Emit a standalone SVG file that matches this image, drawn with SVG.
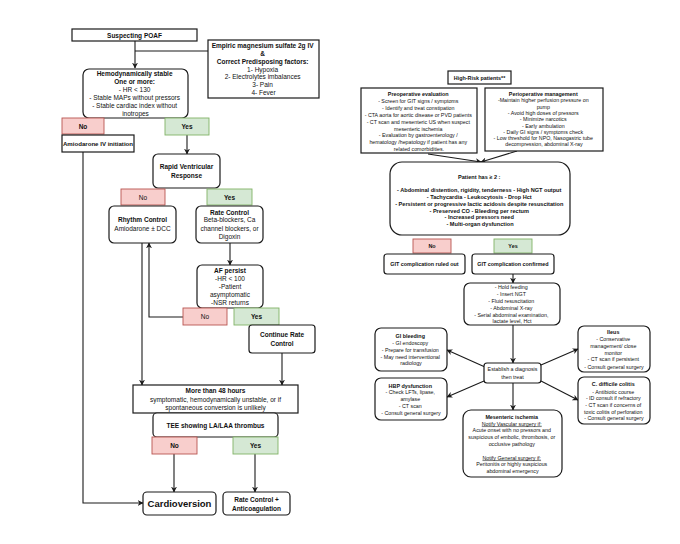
<svg xmlns="http://www.w3.org/2000/svg" width="680" height="544" viewBox="0 0 680 544">
<defs>
<style>
.box{fill:#fff;stroke:#1a1a1a;stroke-width:1.2}
.no{fill:#f8cecc;stroke:#b85450;stroke-width:0.9}
.yes{fill:#d5e8d4;stroke:#82b366;stroke-width:0.9}
text{font-family:"Liberation Sans",Arial,sans-serif;fill:#111;text-anchor:middle}
.t{font-size:6.5px}
.s{font-size:5.3px}
.sb{font-size:5.4px;font-weight:bold}
.b{font-weight:bold}
.u{text-decoration:underline}
.ln{fill:none;stroke:#1a1a1a;stroke-width:1.1}
</style>
<marker id="ah" viewBox="0 0 10 10" refX="9" refY="5" markerWidth="6" markerHeight="6" orient="auto" markerUnits="userSpaceOnUse">
<path d="M0,0 L10,5 L0,10 L3,5 z" fill="#1a1a1a"/>
</marker>
</defs>
<rect width="680" height="544" fill="#fff"/>

<g id="connectors">
<path class="ln" d="M135,41 V68" marker-end="url(#ah)"/>
<path class="ln" d="M135,51 H208"/>
<path class="ln" d="M83,152 V503 H143" marker-end="url(#ah)"/>
<path class="ln" d="M187,135 V154" marker-end="url(#ah)"/>
<path class="ln" d="M230,243 V265" marker-end="url(#ah)"/>
<path class="ln" d="M183,317 H149 V243" marker-end="url(#ah)"/>
<path class="ln" d="M142,243 V385" marker-end="url(#ah)"/>
<path class="ln" d="M282,353 V385" marker-end="url(#ah)"/>
<path class="ln" d="M174,454 V492" marker-end="url(#ah)"/>
<path class="ln" d="M255,454 V492" marker-end="url(#ah)"/>
<path class="ln" d="M428,154 L481,162" marker-end="url(#ah)"/>
<path class="ln" d="M517,151 L481,162" marker-end="url(#ah)"/>
<path class="ln" d="M513,274 V283" marker-end="url(#ah)"/>
<path class="ln" d="M513,325 V363" marker-end="url(#ah)"/>
<path class="ln" d="M513,383 V410" marker-end="url(#ah)"/>
<path class="ln" d="M485,367 L447,350" marker-end="url(#ah)"/>
<path class="ln" d="M484,381 L447,397" marker-end="url(#ah)"/>
<path class="ln" d="M541,365 L578,349" marker-end="url(#ah)"/>
<path class="ln" d="M541,381 L578,400" marker-end="url(#ah)"/>
</g>

<g id="suspecting">
<rect class="box" x="72" y="29" width="125" height="12"/>
<text class="t b" x="134.5" y="37.6" font-size="7">Suspecting POAF</text>
</g>
<g id="empiric">
<rect class="box" x="208" y="40" width="111" height="58"/>
<text class="t" x="263.5">
<tspan class="b" x="263.5" y="47.5">Empiric magnesium sulfate 2g IV</tspan>
<tspan class="b" x="263.5" y="55.5">&amp;</tspan>
<tspan class="b" x="263.5" y="63.5">Correct Predisposing factors:</tspan>
<tspan x="263.5" y="71.5">1- Hypoxia</tspan>
<tspan x="263.5" y="79">2- Electrolytes imbalances</tspan>
<tspan x="263.5" y="87">3- Pain</tspan>
<tspan x="263.5" y="95">4- Fever</tspan>
</text>
</g>
<g id="hemo">
<rect class="box" x="83" y="69" width="105" height="49" rx="6"/>
<text class="t" x="135.5">
<tspan class="b" x="135.5" y="75.8">Hemodynamically stable</tspan>
<tspan class="b" x="135.5" y="84">One or more:</tspan>
<tspan x="135.5" y="91.6">- HR &lt; 130</tspan>
<tspan x="135.5" y="100">- Stable MAPs without pressors</tspan>
<tspan x="135.5" y="108">- Stable cardiac index without</tspan>
<tspan x="135.5" y="115.6">inotropes</tspan>
</text>
</g>
<g id="no1">
<rect class="no" x="62" y="118" width="42" height="16"/>
<text class="t b" x="83" y="128.5">No</text>
</g>
<g id="yes1">
<rect class="yes" x="165" y="118" width="44" height="17"/>
<text class="t b" x="187" y="129">Yes</text>
</g>
<g id="amiodarone">
<rect class="box" x="62" y="135" width="72" height="17"/>
<text class="b" x="98" y="146" font-size="6.1">Amiodarone IV initiation</text>
</g>
<g id="rvr">
<rect class="box" x="153" y="154" width="67" height="34" rx="5"/>
<text class="t b" x="186.5"><tspan x="186.5" y="169">Rapid Ventricular</tspan><tspan x="186.5" y="177.5">Response</tspan></text>
</g>
<g id="no2">
<rect class="no" x="121" y="189" width="44" height="16"/>
<text class="t" x="143" y="199.5">No</text>
</g>
<g id="yes2">
<rect class="yes" x="207" y="189" width="45" height="16"/>
<text class="t b" x="229.5" y="199.5">Yes</text>
</g>
<g id="rhythm">
<rect class="box" x="109" y="206" width="67" height="37" rx="5"/>
<text class="t" x="142.5"><tspan class="b" x="142.5" y="222.3">Rhythm Control</tspan><tspan x="142.5" y="231">Amiodarone ± DCC</tspan></text>
</g>
<g id="rate">
<rect class="box" x="196" y="206" width="67" height="37" rx="5"/>
<text class="t" x="229.5"><tspan class="b" x="229.5" y="214.6">Rate Control</tspan><tspan x="229.5" y="222.3">Beta-blockers, Ca</tspan><tspan x="229.5" y="231">channel blockers, or</tspan><tspan x="229.5" y="239">Digoxin</tspan></text>
</g>
<g id="afpersist">
<rect class="box" x="197" y="265" width="66" height="43" rx="5"/>
<text class="t" x="230"><tspan class="b" x="230" y="273.3">AF persist</tspan><tspan x="230" y="281.3">-HR &lt; 100</tspan><tspan x="230" y="289">-Patient</tspan><tspan x="230" y="296.6">asymptomatic</tspan><tspan x="230" y="304.6">-NSR returns</tspan></text>
</g>
<g id="no3">
<rect class="no" x="183" y="308" width="44" height="17"/>
<text class="t" x="205" y="319">No</text>
</g>
<g id="yes3">
<rect class="yes" x="234" y="308" width="45" height="17"/>
<text class="t b" x="256.5" y="319">Yes</text>
</g>
<g id="continue">
<rect class="box" x="249" y="325" width="66" height="28" rx="3"/>
<text class="t b" x="282"><tspan x="282" y="337.3">Continue Rate</tspan><tspan x="282" y="345.6">Control</tspan></text>
</g>
<g id="h48">
<rect class="box" x="133" y="385" width="165" height="28"/>
<text class="t" x="215.5"><tspan class="b" x="215.5" y="393.3">More than 48 hours</tspan><tspan x="215.5" y="401.6">symptomatic, hemodynamically unstable, or if</tspan><tspan x="215.5" y="410">spontaneous conversion is unlikely</tspan></text>
</g>
<g id="tee">
<rect class="box" x="153" y="413" width="125" height="24" rx="4"/>
<text class="t b" x="215.5" y="428">TEE showing LA/LAA thrombus</text>
</g>
<g id="no4">
<rect class="no" x="152" y="437" width="45" height="17"/>
<text class="t b" x="174.5" y="448">No</text>
</g>
<g id="yes4">
<rect class="yes" x="233" y="437" width="45" height="17"/>
<text class="t b" x="255.5" y="448">Yes</text>
</g>
<g id="cardioversion">
<rect class="box" x="143" y="492" width="73" height="23" rx="4"/>
<text class="b" x="179.5" y="506.8" font-size="9.5">Cardioversion</text>
</g>
<g id="rateanti">
<rect class="box" x="223" y="492" width="67" height="23" rx="4"/>
<text class="t b" x="256.5"><tspan x="256.5" y="502.3">Rate Control +</tspan><tspan x="256.5" y="510.6">Anticoagulation</tspan></text>
</g>

<g id="highrisk">
<rect class="box" x="448" y="71" width="63" height="13"/>
<text class="sb" x="479.5" y="79.5">High-Risk patients**</text>
</g>
<g id="preop">
<rect class="box" x="361" y="88" width="116" height="65"/>
<text class="s" x="419">
<tspan class="sb" x="419" y="96">Preoperative evaluation</tspan>
<tspan x="419" y="102.9">- Screen for GIT signs / symptoms</tspan>
<tspan x="419" y="109.8">- Identify and treat constipation</tspan>
<tspan x="419" y="116.7">- CTA aorta for aortic disease or PVD patients</tspan>
<tspan x="419" y="123.6">- CT scan and mesenteric US when suspect</tspan>
<tspan x="419" y="130.5">mesenteric ischemia</tspan>
<tspan x="419" y="137.4">- Evaluation by gastroenterology /</tspan>
<tspan x="419" y="144.3">hematology /hepatology if patient has any</tspan>
<tspan x="419" y="151.1">related comorbidities.</tspan>
</text>
</g>
<g id="periop">
<rect class="box" x="485" y="88" width="118" height="63"/>
<text class="s" x="544">
<tspan class="sb" x="544" y="96">Perioperative management</tspan>
<tspan x="544" y="102.3">-Maintain higher perfusion pressure on</tspan>
<tspan x="544" y="108.6">pump</tspan>
<tspan x="544" y="114.9">- Avoid high doses of pressors</tspan>
<tspan x="544" y="121.2">- Minimize narcotics</tspan>
<tspan x="544" y="127.5">- Early ambulation</tspan>
<tspan x="544" y="133.8">- Daily GI signs / symptoms check</tspan>
<tspan x="544" y="140.1">- Low threshold for NPO, Nasogastric tube</tspan>
<tspan x="544" y="146.4">decompression, abdominal X-ray</tspan>
</text>
</g>
<g id="patienthas">
<rect class="box" x="390" y="162" width="180" height="73" rx="12"/>
<text class="b" x="480" font-size="5.6">
<tspan x="480" y="179">Patient has ≥ 2 :</tspan>
<tspan x="480" y="191.8">- Abdominal distention, rigidity, tenderness - High NGT output</tspan>
<tspan x="480" y="198.5">- Tachycardia - Leukocytosis - Drop Hct</tspan>
<tspan x="480" y="205.8">- Persistent or progressive lactic acidosis despite resuscitation</tspan>
<tspan x="480" y="212.5">- Preserved CO   - Bleeding per rectum</tspan>
<tspan x="480" y="219.1">- Increased pressors need</tspan>
<tspan x="480" y="226.1">- Multi-organ dysfunction</tspan>
</text>
</g>
<g id="no5">
<rect class="no" x="413" y="239" width="38" height="14"/>
<text class="sb" x="432" y="247.8">No</text>
</g>
<g id="yes5">
<rect class="yes" x="494" y="239" width="38" height="14"/>
<text class="sb" x="513" y="247.8">Yes</text>
</g>
<g id="ruledout">
<rect class="box" x="384" y="254" width="81" height="20" rx="3"/>
<text class="sb" x="424.5" y="265.8">GIT complication ruled out</text>
</g>
<g id="confirmed">
<rect class="box" x="472" y="254" width="82" height="20" rx="3"/>
<text class="sb" x="513" y="265.8">GIT complication confirmed</text>
</g>
<g id="holdfeeding">
<rect class="box" x="464" y="283" width="96" height="42" rx="6"/>
<text class="s" x="512">
<tspan x="512" y="289.1">- Hold feeding</tspan>
<tspan x="512" y="296.1">- Insert NGT</tspan>
<tspan x="512" y="302.8">- Fluid resuscitation</tspan>
<tspan x="512" y="309.8">- Abdominal X-ray</tspan>
<tspan x="512" y="316.5">- Serial abdominal examination,</tspan>
<tspan x="512" y="323.3">lactate level, Hct</tspan>
</text>
</g>
<g id="establish">
<rect class="box" x="484" y="363" width="57" height="20" rx="3"/>
<text class="s" x="512.5"><tspan x="512.5" y="371.1">Establish a diagnosis</tspan><tspan x="512.5" y="378.5">then treat</tspan></text>
</g>
<g id="gibleeding">
<rect class="box" x="375" y="328" width="72" height="43" rx="6"/>
<text class="s" x="411">
<tspan class="sb" x="411" y="337.8">GI bleeding</tspan>
<tspan x="411" y="344.5">- GI endoscopy</tspan>
<tspan x="411" y="351.5">- Prepare for transfusion</tspan>
<tspan x="411" y="358.5">- May need interventional</tspan>
<tspan x="411" y="365.1">radiology</tspan>
</text>
</g>
<g id="hbp">
<rect class="box" x="375" y="378" width="72" height="42" rx="6"/>
<text class="s" x="411">
<tspan class="sb" x="411" y="387.5">HBP dysfunction</tspan>
<tspan x="411" y="394.1">- Check LFTs, lipase,</tspan>
<tspan x="411" y="400.8">amylase</tspan>
<tspan x="411" y="407.5">- CT scan</tspan>
<tspan x="411" y="414.8">- Consult general surgery</tspan>
</text>
</g>
<g id="ileus">
<rect class="box" x="578" y="326" width="72" height="46" rx="6"/>
<text class="s" x="614">
<tspan class="sb" x="614" y="333.8">Ileus</tspan>
<tspan x="614" y="341.1">- Conservative</tspan>
<tspan x="614" y="347.8">management/ close</tspan>
<tspan x="614" y="354.5">monitor</tspan>
<tspan x="614" y="361.1">- CT scan if persistent</tspan>
<tspan x="614" y="368.5">- Consult general surgery</tspan>
</text>
</g>
<g id="cdiff">
<rect class="box" x="578" y="377" width="72" height="47" rx="6"/>
<text class="s" x="614">
<tspan class="sb" x="614" y="386.1">C. difficile colitis</tspan>
<tspan x="614" y="393.5">- Antibiotic course</tspan>
<tspan x="614" y="400.1">- ID consult if refractory</tspan>
<tspan x="614" y="406.8">- CT scan if concerns of</tspan>
<tspan x="614" y="413.5">toxic colitis of perforation</tspan>
<tspan x="614" y="420.1">- Consult general surgery</tspan>
</text>
</g>
<g id="mesenteric">
<rect class="box" x="463" y="410" width="99" height="67" rx="8"/>
<text class="s" x="512.5">
<tspan class="sb" x="512.5" y="418.5">Mesenteric ischemia</tspan>
<tspan class="u" x="512.5" y="425.5">Notify Vascular surgery if:</tspan>
<tspan x="512.5" y="432.1">Acute onset with no pressors and</tspan>
<tspan x="512.5" y="439.1">suspicious of embolic, thrombosis, or</tspan>
<tspan x="512.5" y="445.8">occlusive pathology</tspan>
<tspan class="u" x="512.5" y="459.5">Notify General surgery if:</tspan>
<tspan x="512.5" y="466.1">Peritonitis or highly suspicious</tspan>
<tspan x="512.5" y="473">abdominal emergency</tspan>
</text>
</g>
</svg>
